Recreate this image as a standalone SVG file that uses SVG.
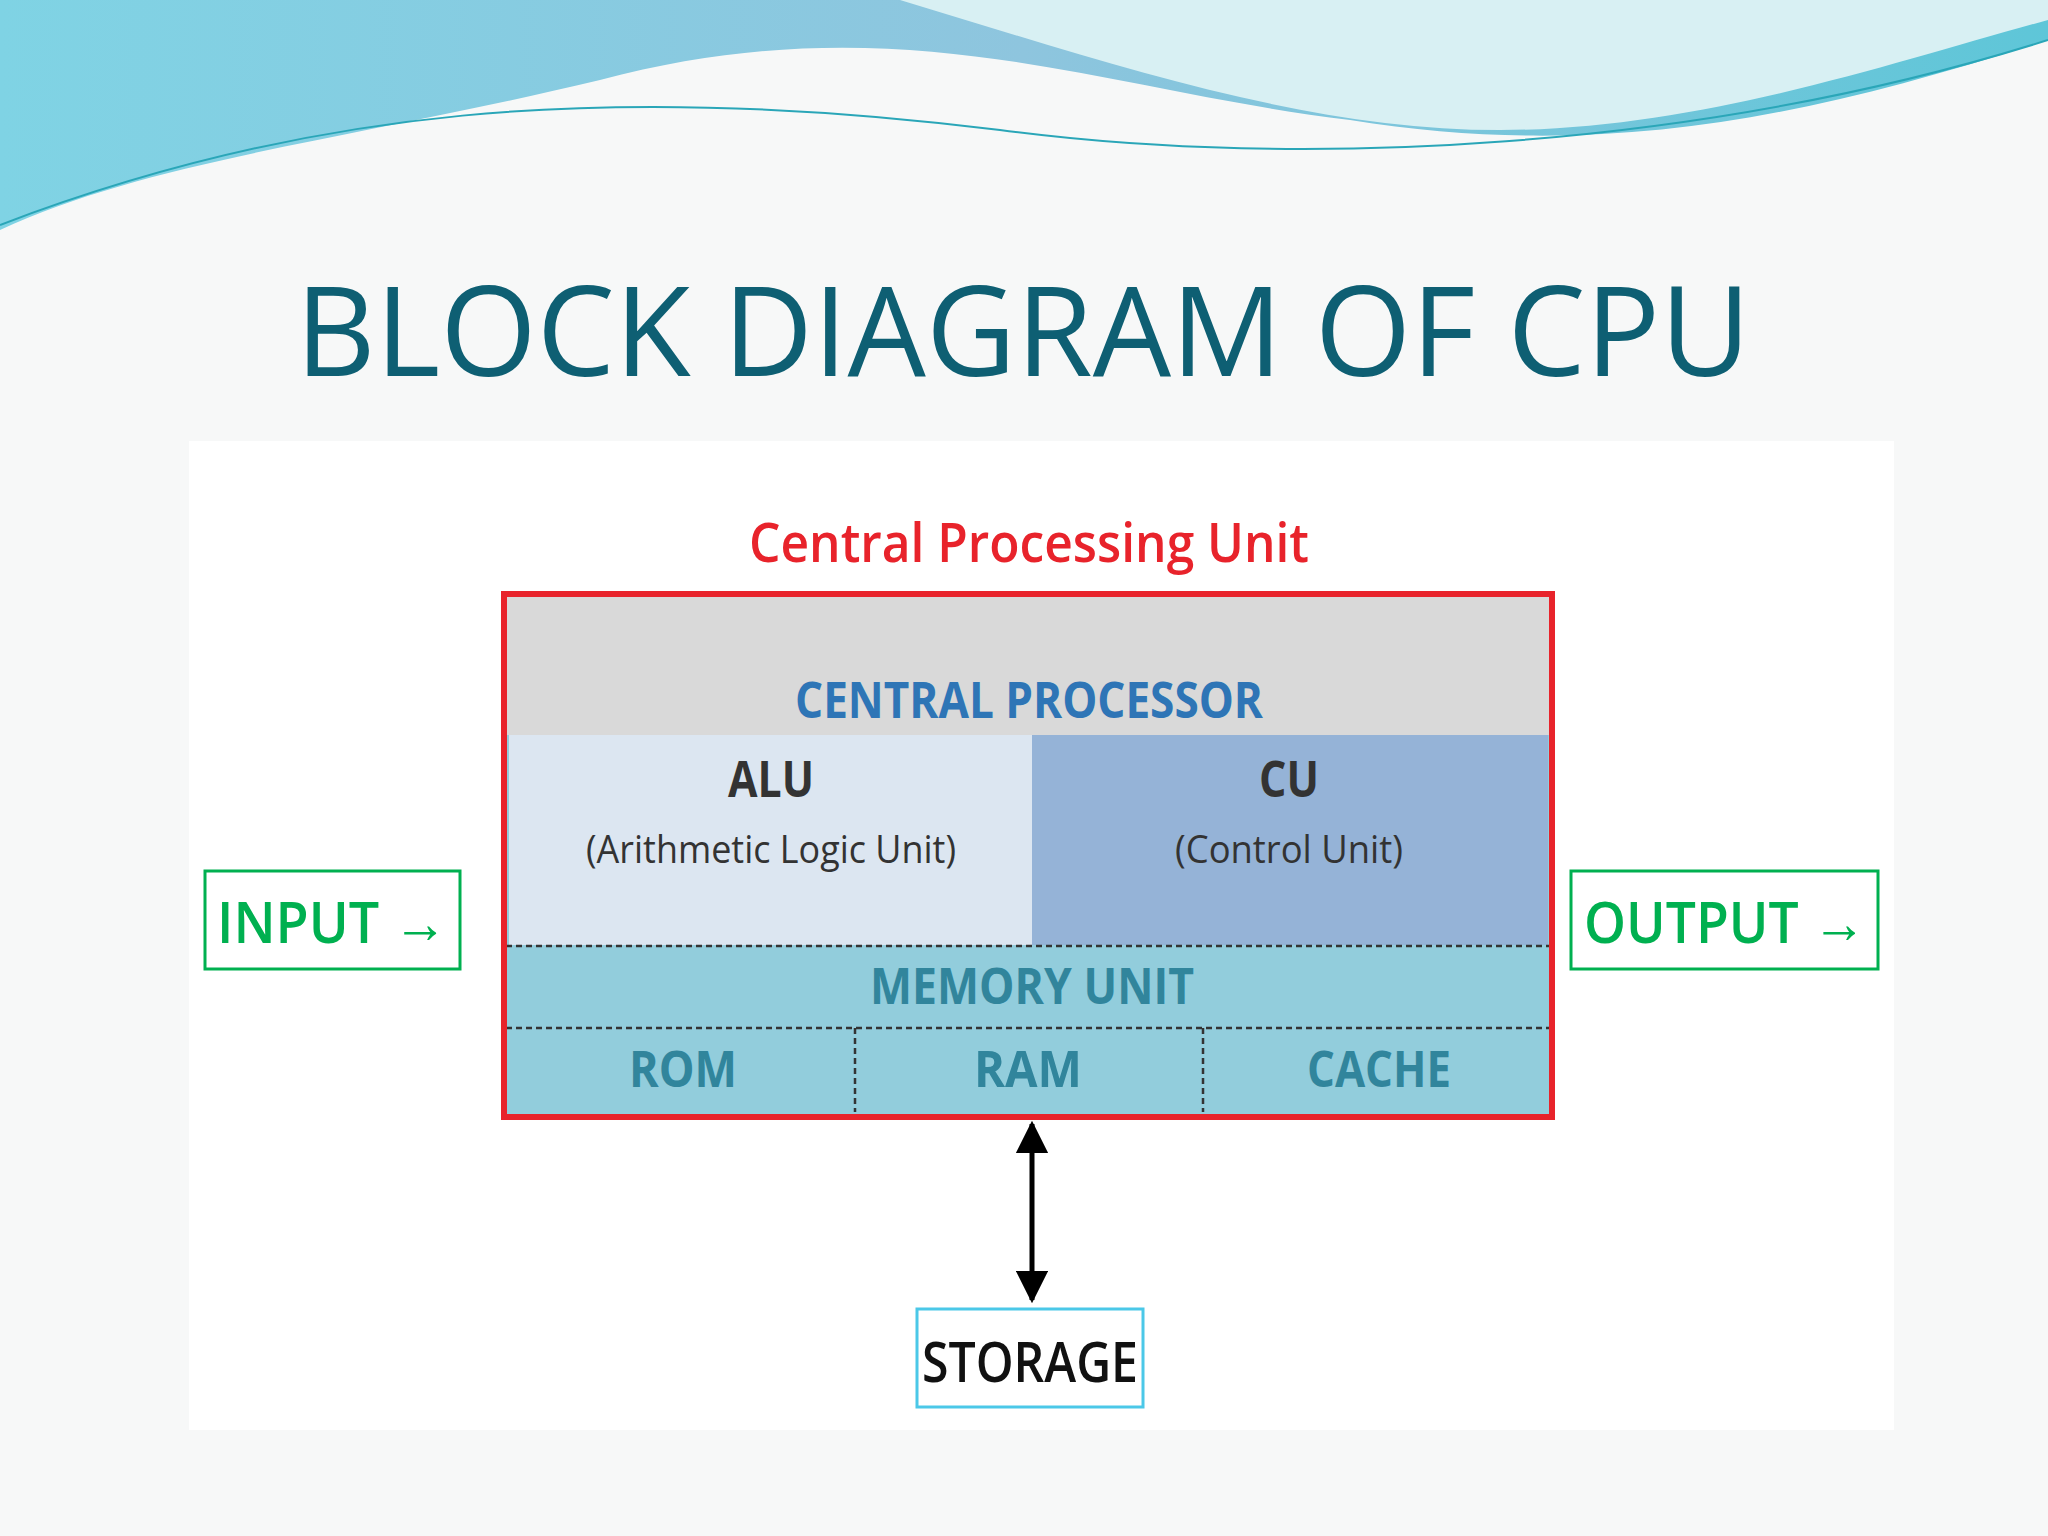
<svg xmlns="http://www.w3.org/2000/svg" width="2048" height="1536" viewBox="0 0 2048 1536">
<style>
.c{font-family:"Open Sans","Liberation Sans",sans-serif;text-anchor:middle}
.b{font-weight:bold}
.dash{stroke:#333;stroke-width:2.5;stroke-dasharray:6,4;fill:none}
</style>
<defs>
<linearGradient id="wave" x1="0" y1="0" x2="1" y2="0">
<stop offset="0" stop-color="#7fd3e4"/><stop offset="0.5" stop-color="#8ec5de"/><stop offset="1" stop-color="#5ec6d8"/>
</linearGradient>
<marker id="ah" viewBox="0 0 10 10" refX="9" refY="5" markerWidth="6.5" markerHeight="6.5" orient="auto-start-reverse"><path d="M0,0L10,5L0,10z" fill="#000"/></marker>
</defs>
<rect width="2048" height="1536" fill="#f7f8f8"/>
<path d="M0,0H2048V40C1800,120 1600,160 1350,120 C1100,90 900,0 600,80 C350,140 150,160 0,230Z" fill="url(#wave)"/>
<path d="M900,0C1100,60 1300,130 1500,130 C1700,130 1900,60 2048,20V0Z" fill="#d8f0f3"/>
<path d="M0,225C300,110 600,80 1000,130 C1300,170 1700,150 2048,40" stroke="#2aa6b8" stroke-width="2" fill="none"/>
<text class="c" x="1023" y="376" font-size="124" fill="#0e5f73">BLOCK DIAGRAM OF CPU</text>
<rect x="189" y="441" width="1705" height="989" fill="#fff"/>
<text class="c" x="1029" y="562" font-size="54" font-weight="600" fill="#e8232b" textLength="560" lengthAdjust="spacingAndGlyphs">Central Processing Unit</text>
<g id="cpu">
<rect x="504" y="594" width="1048" height="523" fill="#92cddc"/>
<rect x="506" y="596" width="1044" height="139" fill="#d9d9d9"/>
<text class="c b" x="1029" y="718" font-size="50" fill="#2e75b6" textLength="468" lengthAdjust="spacingAndGlyphs">CENTRAL PROCESSOR</text>
</g>
<g id="alu">
<rect x="509" y="735" width="523" height="210" fill="#dce6f1"/>
<text class="c b" x="771" y="797" font-size="50" fill="#333" textLength="86" lengthAdjust="spacingAndGlyphs">ALU</text>
<text class="c" x="771" y="863" font-size="38" fill="#333" textLength="370" lengthAdjust="spacingAndGlyphs">(Arithmetic Logic Unit)</text>
</g>
<g id="cu">
<rect x="1032" y="735" width="516" height="210" fill="#95b3d7"/>
<text class="c b" x="1289" y="797" font-size="50" fill="#333" textLength="60" lengthAdjust="spacingAndGlyphs">CU</text>
<text class="c" x="1289" y="863" font-size="38" fill="#333" textLength="228" lengthAdjust="spacingAndGlyphs">(Control Unit)</text>
</g>
<g id="memory">
<text class="c b" x="1032" y="1004" font-size="50" fill="#31859c" textLength="324" lengthAdjust="spacingAndGlyphs">MEMORY UNIT</text>
<line class="dash" x1="506" y1="946" x2="1550" y2="946"/>
<line class="dash" x1="506" y1="1028" x2="1550" y2="1028"/>
<line class="dash" x1="855" y1="1028" x2="855" y2="1112"/>
<line class="dash" x1="1203" y1="1028" x2="1203" y2="1112"/>
</g>
<g id="rom"><text class="c b" x="683" y="1087" font-size="50" fill="#31859c" textLength="108" lengthAdjust="spacingAndGlyphs">ROM</text></g>
<g id="ram"><text class="c b" x="1028" y="1087" font-size="50" fill="#31859c" textLength="108" lengthAdjust="spacingAndGlyphs">RAM</text></g>
<g id="cache"><text class="c b" x="1379" y="1087" font-size="50" fill="#31859c" textLength="144" lengthAdjust="spacingAndGlyphs">CACHE</text></g>
<rect x="504" y="594" width="1048" height="523" fill="none" stroke="#e8232b" stroke-width="6"/>
<g id="input">
<rect x="205" y="871" width="255" height="98" fill="#fff" stroke="#00b050" stroke-width="3"/>
<text class="c" x="332" y="943" font-size="58" font-weight="600" fill="#00b050" textLength="230" lengthAdjust="spacingAndGlyphs">INPUT →</text>
</g>
<g id="output">
<rect x="1571" y="871" width="307" height="98" fill="#fff" stroke="#00b050" stroke-width="3"/>
<text class="c" x="1725" y="943" font-size="58" font-weight="600" fill="#00b050" textLength="282" lengthAdjust="spacingAndGlyphs">OUTPUT →</text>
</g>
<g id="storage">
<rect x="917" y="1309" width="226" height="98" fill="#fff" stroke="#4bc8e8" stroke-width="3"/>
<text class="c" x="1030" y="1382" font-size="56" font-weight="600" fill="#111" textLength="216" lengthAdjust="spacingAndGlyphs">STORAGE</text>
</g>
<g id="connectors">
<line x1="1032" y1="1124" x2="1032" y2="1300" stroke="#000" stroke-width="5" marker-start="url(#ah)" marker-end="url(#ah)"/>
</g>
</svg>
